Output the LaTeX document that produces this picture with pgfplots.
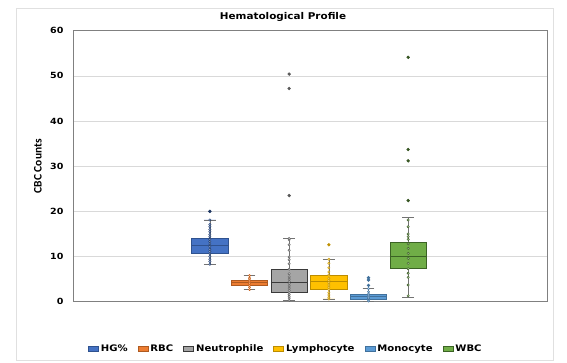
\documentclass[border=0pt]{standalone}
\usepackage{fontspec}
\setmainfont{DejaVu Sans}
\newfontfamily\carlito{Carlito}
\newfontfamily\wfont[FakeStretch=1.12]{DejaVu Sans}
\newfontfamily\tfont[FakeStretch=1.12]{DejaVu Sans}
\usepackage{pgfplots}
\pgfplotsset{compat=1.18}
\usepgfplotslibrary{statistics}
\definecolor{cHG}{HTML}{4472C4}\definecolor{cHGd}{HTML}{2F528F}\definecolor{cHGm}{HTML}{1F3864}
\definecolor{cRB}{HTML}{ED7D31}\definecolor{cRBd}{HTML}{AE5A21}\definecolor{cRBm}{HTML}{C55A11}
\definecolor{cNE}{HTML}{A5A5A5}\definecolor{cNEd}{HTML}{3A3A3A}\definecolor{cNEm}{HTML}{595959}
\definecolor{cLY}{HTML}{FFC000}\definecolor{cLYd}{HTML}{BC8C00}\definecolor{cLYm}{HTML}{BF9000}
\definecolor{cMO}{HTML}{5B9BD5}\definecolor{cMOd}{HTML}{41719C}\definecolor{cMOm}{HTML}{1F4E79}
\definecolor{cWB}{HTML}{70AD47}\definecolor{cWBd}{HTML}{3B6324}\definecolor{cWBm}{HTML}{375623}
\begin{document}
\begin{tikzpicture}[x=1pt,y=1pt]
\path (0,0) rectangle (567,362);
\draw[color=black!12, line width=0.9pt] (16,2) rectangle (553,354);
\node[font=\tfont\fontsize{9.3}{11}\selectfont\bfseries] at (283,345) {Hematological Profile};
\begin{axis}[at={(73pt,60.3pt)}, anchor=south west, scale only axis, width=474pt, height=271pt,
 xmin=-2.45, xmax=9.5, ymin=0, ymax=60, ytick={0,10,...,60}, xtick=\empty,
 ymajorgrids, grid style={color=black!15, line width=0.6pt},
 axis line style={color=black!50, line width=0.8pt},
 major tick length=0pt,
 tick label style={font=\wfont\fontsize{8.5}{10}\selectfont\bfseries},
 /pgf/number format/assume math mode=true,
 yticklabel style={xshift=-6pt},
 ylabel={CBC Counts},
 ylabel style={font=\carlito\bfseries\fontsize{11.5}{13}\selectfont, at={(axis description cs:-0.074,0.5)}, anchor=center},
 legend columns=6,
 legend style={at={(axis description cs:0.449,-0.1745)}, anchor=center, draw=none, fill=none,
   font=\wfont\fontsize{9}{10}\selectfont\bfseries,
   /tikz/every even column/.append style={column sep=8pt}},
 legend image code/.code={\draw[#1,line width=0.8pt] (0pt,-2.8pt) rectangle (10pt,2.8pt);},
 boxplot/draw direction=y,
 boxplot/box extend=0.92, boxplot/whisker extend=0.3,
 boxplot/every whisker/.style={draw=black!55, line width=0.6pt},
]
% HG%
\addplot[boxplot prepared={draw position=1, lower whisker=8.3, lower quartile=10.6, median=12.4, upper quartile=14.0, upper whisker=18.1},
  fill=cHG, draw=cHGd, line width=0.7pt, mark=*, mark size=1.3pt, mark options={fill=cHGm, draw=cHGm}, forget plot]
  coordinates {(0,20.0)};
\addplot[only marks, mark=*, mark size=1.2pt, mark options={fill=cHG!50, draw=cHGm, line width=0.4pt}, forget plot]
  coordinates {(1,8.3)(1,8.9)(1,9.4)(1,10.0)(1,10.6)(1,11.1)(1,11.6)(1,12.2)(1,12.8)(1,13.3)(1,13.8)(1,14.4)(1,14.9)(1,15.5)(1,16.0)(1,16.6)(1,17.1)(1,18.1)};
% RBC
\addplot[boxplot prepared={draw position=2, lower whisker=2.7, lower quartile=3.6, median=4.2, upper quartile=4.7, upper whisker=5.8},
  fill=cRB, draw=cRBd, line width=0.7pt, mark=*, mark size=1.3pt, mark options={fill=cRBm, draw=cRBm}, forget plot]
  coordinates {};
\addplot[only marks, mark=*, mark size=1.2pt, mark options={fill=cRB!50, draw=cRBm, line width=0.4pt}, forget plot]
  coordinates {(2,2.7)(2,3.2)(2,3.6)(2,4.0)(2,4.4)(2,4.8)(2,5.2)(2,5.8)};
% Neutrophile
\addplot[boxplot prepared={draw position=3, lower whisker=0.3, lower quartile=2.0, median=4.2, upper quartile=7.2, upper whisker=14.0},
  fill=cNE, draw=cNEd, line width=0.7pt, mark=*, mark size=1.3pt, mark options={fill=cNEm, draw=cNEm}, forget plot]
  coordinates {(0,50.4)(0,47.2)(0,23.5)};
\addplot[only marks, mark=*, mark size=1.2pt, mark options={fill=cNE!50, draw=cNEm, line width=0.4pt}, forget plot]
  coordinates {(3,0.3)(3,0.8)(3,1.2)(3,1.6)(3,2.0)(3,2.5)(3,3.0)(3,3.5)(3,4.0)(3,4.5)(3,5.0)(3,5.5)(3,6.2)(3,7.2)(3,8.4)(3,9.3)(3,9.9)(3,11.4)(3,12.6)(3,13.7)(3,14.0)};
% Lymphocyte
\addplot[boxplot prepared={draw position=4, lower whisker=0.6, lower quartile=2.7, median=4.4, upper quartile=5.9, upper whisker=9.4},
  fill=cLY, draw=cLYd, line width=0.7pt, mark=*, mark size=1.3pt, mark options={fill=cLYm, draw=cLYm}, forget plot]
  coordinates {(0,12.6)};
\addplot[only marks, mark=*, mark size=1.2pt, mark options={fill=cLY!50, draw=cLYm, line width=0.4pt}, forget plot]
  coordinates {(4,0.6)(4,1.0)(4,1.5)(4,2.0)(4,2.7)(4,3.2)(4,3.7)(4,4.2)(4,4.7)(4,5.2)(4,5.9)(4,6.6)(4,7.5)(4,8.5)(4,9.4)};
% Monocyte
\addplot[boxplot prepared={draw position=5, lower whisker=0.15, lower quartile=0.6, median=1.1, upper quartile=1.7, upper whisker=2.9},
  fill=cMO, draw=cMOd, line width=0.7pt, mark=*, mark size=1.3pt, mark options={fill=cMOd, draw=cMOd}, forget plot]
  coordinates {(0,3.6)(0,4.8)(0,5.3)};
\addplot[only marks, mark=*, mark size=1.2pt, mark options={fill=cMO!50, draw=cMOd, line width=0.4pt}, forget plot]
  coordinates {(5,0.15)(5,0.4)(5,0.7)(5,1.0)(5,1.3)(5,1.7)(5,2.2)(5,2.9)};
% WBC
\addplot[boxplot prepared={draw position=6, lower whisker=1.0, lower quartile=7.3, median=10.1, upper quartile=13.2, upper whisker=18.7},
  fill=cWB, draw=cWBd, line width=0.7pt, mark=*, mark size=1.3pt, mark options={fill=cWBm, draw=cWBm}, forget plot]
  coordinates {(0,54.1)(0,33.7)(0,31.2)(0,22.4)};
\addplot[only marks, mark=*, mark size=1.2pt, mark options={fill=cWB!50, draw=cWBm, line width=0.4pt}, forget plot]
  coordinates {(6,1.3)(6,3.7)(6,5.4)(6,6.3)(6,7.3)(6,8.5)(6,9.6)(6,10.7)(6,11.8)(6,12.8)(6,13.8)(6,14.4)(6,15.0)(6,16.6)(6,18.1)};
\addlegendimage{fill=cHG, draw=cHGd}\addlegendentry{HG\%}
\addlegendimage{fill=cRB, draw=cRBd}\addlegendentry{RBC}
\addlegendimage{fill=cNE, draw=cNEd}\addlegendentry{Neutrophile}
\addlegendimage{fill=cLY, draw=cLYd}\addlegendentry{Lymphocyte}
\addlegendimage{fill=cMO, draw=cMOd}\addlegendentry{Monocyte}
\addlegendimage{fill=cWB, draw=cWBd}\addlegendentry{WBC}
\end{axis}
\end{tikzpicture}
\end{document}
